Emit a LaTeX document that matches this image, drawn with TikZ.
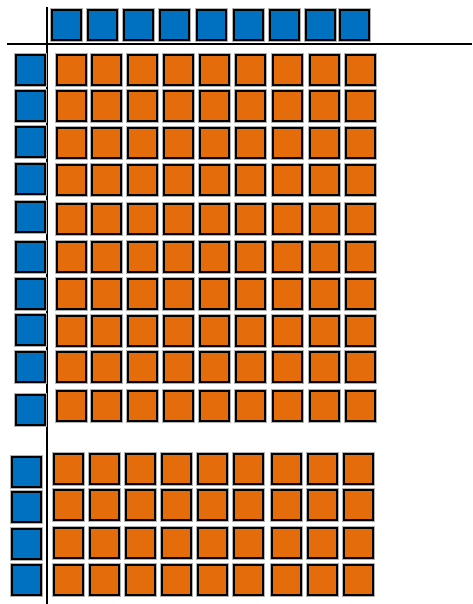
\documentclass[tikz,border=0pt]{standalone}
\definecolor{sqblue}{HTML}{0070C0}
\definecolor{sqorange}{HTML}{E46C0A}
\begin{document}
\begin{tikzpicture}[x=1pt,y=-1pt,
  sq/.style={draw=black, line width=2.2pt, anchor=north west, inner sep=0pt,
    minimum width=29pt, minimum height=30pt,
    preaction={draw=black!30, line width=3.4pt}},
  bsq/.style={sq, fill=sqblue},
  osq/.style={sq, fill=sqorange},
  axis/.style={draw=black, line width=2pt}]
\useasboundingbox (0,0) rectangle (472,604);
% axes
\coordinate (hl) at (7,44);
\coordinate (hr) at (472,44);
\coordinate (vt) at (47,7);
\coordinate (vb) at (47,604);
\draw[axis] (hl) -- (hr);
\draw[axis] (vt) -- (vb);
% top blue row
\foreach \x [count=\i] in {51,87,123,159,196,233,269,305,339}
  \node[bsq] (t\i) at (\x,9) {};
% left blue column, upper block
\foreach \y [count=\j] in {54,90,126,163,201,241,278,314,351,394}
  \node[bsq] (l\j) at (15,\y) {};
% left blue column, lower block
\foreach \y [count=\j] in {456,491,528,564}
  \node[bsq] (m\j) at (11,\y) {};
% upper orange block
\foreach \y [count=\j] in {54,90,127,164,203,241,278,315,351,390}
  \foreach \x [count=\i] in {56,91,127,163,199,235,272,309,345}
    \node[osq] (u\j-\i) at (\x,\y) {};
% lower orange block
\foreach \y [count=\j] in {453,489,527,564}
  \foreach \x [count=\i] in {53,89,125,161,197,233,271,307,343}
    \node[osq] (d\j-\i) at (\x,\y) {};
\end{tikzpicture}
\end{document}
